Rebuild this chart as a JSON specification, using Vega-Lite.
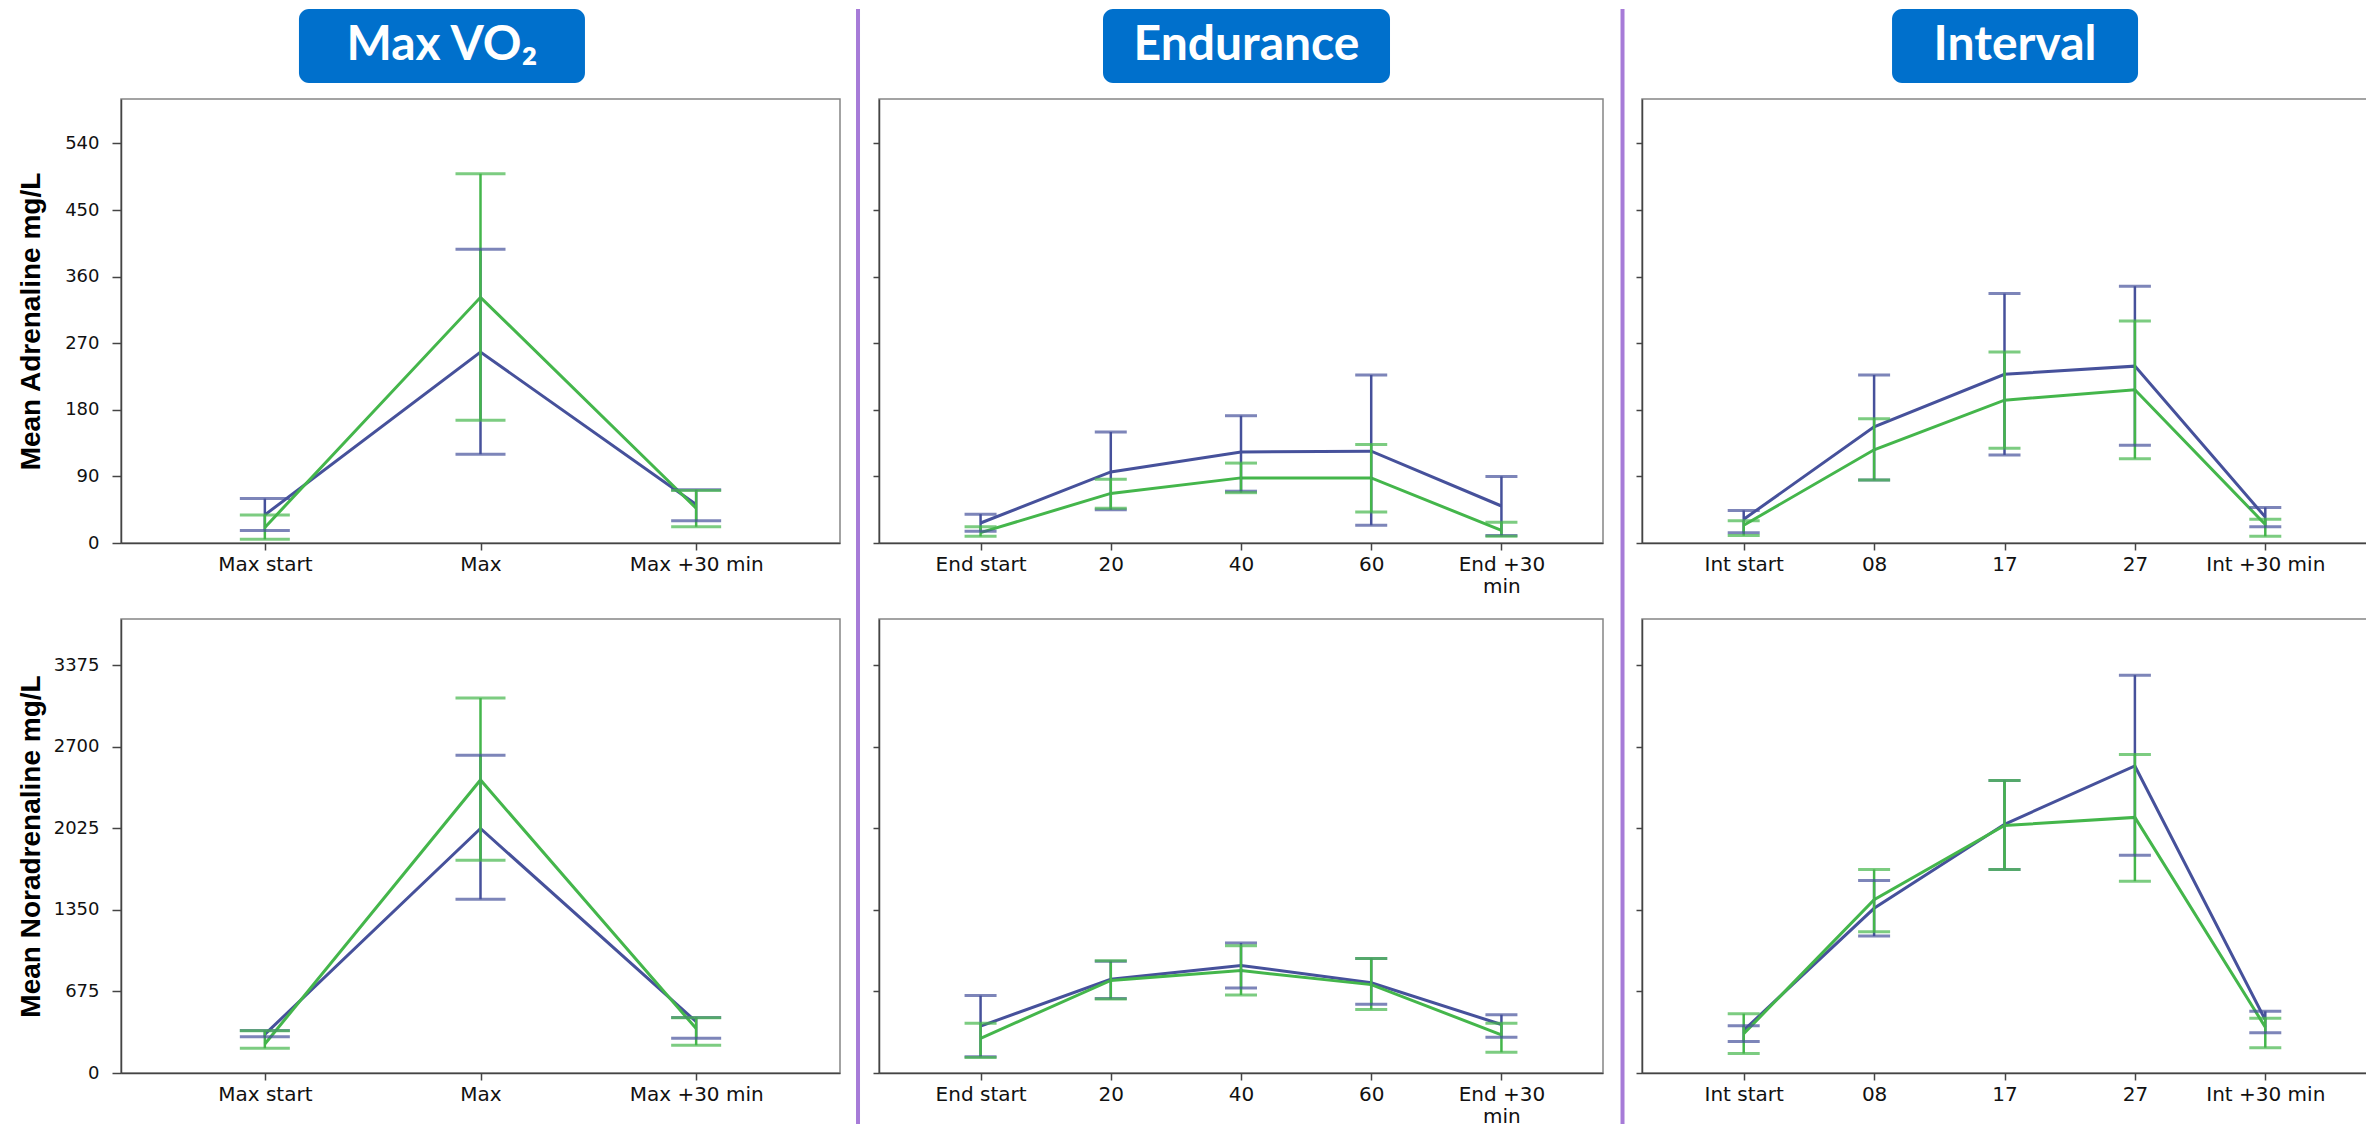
{
  "$schema": "https://vega.github.io/schema/vega-lite/v6.json",
  "background": "white",
  "padding": {"left": 16, "top": 7, "right": 0, "bottom": 0},
  "data": {"values": [
    {"hormone": "Adrenaline", "protocol": "Max", "time": "Max start", "group": "Group A", "mean": 38, "lo": 17, "hi": 60},
    {"hormone": "Adrenaline", "protocol": "Max", "time": "Max", "group": "Group A", "mean": 258, "lo": 120, "hi": 397},
    {"hormone": "Adrenaline", "protocol": "Max", "time": "Max +30 min", "group": "Group A", "mean": 52, "lo": 30, "hi": 72},
    {"hormone": "Adrenaline", "protocol": "Max", "time": "Max start", "group": "Group B", "mean": 21, "lo": 5, "hi": 38},
    {"hormone": "Adrenaline", "protocol": "Max", "time": "Max", "group": "Group B", "mean": 332, "lo": 166, "hi": 499},
    {"hormone": "Adrenaline", "protocol": "Max", "time": "Max +30 min", "group": "Group B", "mean": 47, "lo": 22, "hi": 71},

    {"hormone": "Adrenaline", "protocol": "Endurance", "time": "End start", "group": "Group A", "mean": 27, "lo": 16, "hi": 39},
    {"hormone": "Adrenaline", "protocol": "Endurance", "time": "20", "group": "Group A", "mean": 96, "lo": 45, "hi": 150},
    {"hormone": "Adrenaline", "protocol": "Endurance", "time": "40", "group": "Group A", "mean": 123, "lo": 70, "hi": 172},
    {"hormone": "Adrenaline", "protocol": "Endurance", "time": "60", "group": "Group A", "mean": 124, "lo": 24, "hi": 227},
    {"hormone": "Adrenaline", "protocol": "Endurance", "time": "End +30 min", "group": "Group A", "mean": 50, "lo": 10, "hi": 90},
    {"hormone": "Adrenaline", "protocol": "Endurance", "time": "End start", "group": "Group B", "mean": 14, "lo": 9, "hi": 22},
    {"hormone": "Adrenaline", "protocol": "Endurance", "time": "20", "group": "Group B", "mean": 67, "lo": 47, "hi": 86},
    {"hormone": "Adrenaline", "protocol": "Endurance", "time": "40", "group": "Group B", "mean": 88, "lo": 68, "hi": 108},
    {"hormone": "Adrenaline", "protocol": "Endurance", "time": "60", "group": "Group B", "mean": 88, "lo": 42, "hi": 133},
    {"hormone": "Adrenaline", "protocol": "Endurance", "time": "End +30 min", "group": "Group B", "mean": 17, "lo": 9, "hi": 28},

    {"hormone": "Adrenaline", "protocol": "Interval", "time": "Int start", "group": "Group A", "mean": 32, "lo": 14, "hi": 44},
    {"hormone": "Adrenaline", "protocol": "Interval", "time": "08", "group": "Group A", "mean": 157, "lo": 85, "hi": 227},
    {"hormone": "Adrenaline", "protocol": "Interval", "time": "17", "group": "Group A", "mean": 228, "lo": 119, "hi": 337},
    {"hormone": "Adrenaline", "protocol": "Interval", "time": "27", "group": "Group A", "mean": 239, "lo": 132, "hi": 347},
    {"hormone": "Adrenaline", "protocol": "Interval", "time": "Int +30 min", "group": "Group A", "mean": 35, "lo": 22, "hi": 48},
    {"hormone": "Adrenaline", "protocol": "Interval", "time": "Int start", "group": "Group B", "mean": 24, "lo": 10, "hi": 30},
    {"hormone": "Adrenaline", "protocol": "Interval", "time": "08", "group": "Group B", "mean": 126, "lo": 85, "hi": 168},
    {"hormone": "Adrenaline", "protocol": "Interval", "time": "17", "group": "Group B", "mean": 193, "lo": 128, "hi": 258},
    {"hormone": "Adrenaline", "protocol": "Interval", "time": "27", "group": "Group B", "mean": 207, "lo": 114, "hi": 300},
    {"hormone": "Adrenaline", "protocol": "Interval", "time": "Int +30 min", "group": "Group B", "mean": 25, "lo": 9, "hi": 32},

    {"hormone": "Noradrenaline", "protocol": "Max", "time": "Max start", "group": "Group A", "mean": 320, "lo": 300, "hi": 352},
    {"hormone": "Noradrenaline", "protocol": "Max", "time": "Max", "group": "Group A", "mean": 2025, "lo": 1439, "hi": 2631},
    {"hormone": "Noradrenaline", "protocol": "Max", "time": "Max +30 min", "group": "Group A", "mean": 425, "lo": 287, "hi": 460},
    {"hormone": "Noradrenaline", "protocol": "Max", "time": "Max start", "group": "Group B", "mean": 240, "lo": 205, "hi": 350},
    {"hormone": "Noradrenaline", "protocol": "Max", "time": "Max", "group": "Group B", "mean": 2427, "lo": 1761, "hi": 3105},
    {"hormone": "Noradrenaline", "protocol": "Max", "time": "Max +30 min", "group": "Group B", "mean": 368, "lo": 230, "hi": 458},

    {"hormone": "Noradrenaline", "protocol": "Endurance", "time": "End start", "group": "Group A", "mean": 388, "lo": 135, "hi": 641},
    {"hormone": "Noradrenaline", "protocol": "Endurance", "time": "20", "group": "Group A", "mean": 776, "lo": 618, "hi": 925},
    {"hormone": "Noradrenaline", "protocol": "Endurance", "time": "40", "group": "Group A", "mean": 891, "lo": 704, "hi": 1077},
    {"hormone": "Noradrenaline", "protocol": "Endurance", "time": "60", "group": "Group A", "mean": 747, "lo": 569, "hi": 948},
    {"hormone": "Noradrenaline", "protocol": "Endurance", "time": "End +30 min", "group": "Group A", "mean": 402, "lo": 296, "hi": 483},
    {"hormone": "Noradrenaline", "protocol": "Endurance", "time": "End start", "group": "Group B", "mean": 287, "lo": 129, "hi": 411},
    {"hormone": "Noradrenaline", "protocol": "Endurance", "time": "20", "group": "Group B", "mean": 767, "lo": 612, "hi": 930},
    {"hormone": "Noradrenaline", "protocol": "Endurance", "time": "40", "group": "Group B", "mean": 848, "lo": 646, "hi": 1054},
    {"hormone": "Noradrenaline", "protocol": "Endurance", "time": "60", "group": "Group B", "mean": 732, "lo": 526, "hi": 948},
    {"hormone": "Noradrenaline", "protocol": "Endurance", "time": "End +30 min", "group": "Group B", "mean": 316, "lo": 172, "hi": 411},

    {"hormone": "Noradrenaline", "protocol": "Interval", "time": "Int start", "group": "Group A", "mean": 353, "lo": 261, "hi": 391},
    {"hormone": "Noradrenaline", "protocol": "Interval", "time": "08", "group": "Group A", "mean": 1364, "lo": 1134, "hi": 1594},
    {"hormone": "Noradrenaline", "protocol": "Interval", "time": "17", "group": "Group A", "mean": 2060, "lo": 1686, "hi": 2422},
    {"hormone": "Noradrenaline", "protocol": "Interval", "time": "27", "group": "Group A", "mean": 2543, "lo": 1804, "hi": 3295},
    {"hormone": "Noradrenaline", "protocol": "Interval", "time": "Int +30 min", "group": "Group A", "mean": 440, "lo": 333, "hi": 511},
    {"hormone": "Noradrenaline", "protocol": "Interval", "time": "Int start", "group": "Group B", "mean": 325, "lo": 161, "hi": 491},
    {"hormone": "Noradrenaline", "protocol": "Interval", "time": "08", "group": "Group B", "mean": 1436, "lo": 1169, "hi": 1686},
    {"hormone": "Noradrenaline", "protocol": "Interval", "time": "17", "group": "Group B", "mean": 2050, "lo": 1686, "hi": 2422},
    {"hormone": "Noradrenaline", "protocol": "Interval", "time": "27", "group": "Group B", "mean": 2117, "lo": 1589, "hi": 2637},
    {"hormone": "Noradrenaline", "protocol": "Interval", "time": "Int +30 min", "group": "Group B", "mean": 380, "lo": 210, "hi": 454}
  ]},
  "config": {
    "view": {"stroke": "#858585", "strokeWidth": 1.5},
    "axis": {"grid": false, "domainColor": "#444444", "domainWidth": 1.5, "tickColor": "#444444", "tickWidth": 1.5, "labelFont": "DejaVu Sans", "labelColor": "#111111", "titleFont": "Liberation Sans", "titleColor": "#000000"},
    "line": {"strokeWidth": 3}
  },
  "spacing": 0,
  "hconcat": [
    {
      "spacing": 15,
      "vconcat": [
        {
          "width": 719, "height": 74,
          "data": {"values": [{"title": "Max VO₂"}]},
          "view": {"stroke": null},
          "encoding": {"x": {"field": "title", "type": "nominal", "scale": {"type": "band", "paddingInner": 0, "paddingOuter": 0.757, "align": 0.411}, "axis": null}},
          "layer": [
            {"mark": {"type": "rect", "color": "#0070CC", "cornerRadius": 10}},
            {"mark": {"type": "text", "color": "white", "font": "Lato, DejaVu Sans", "fontWeight": "bold", "fontSize": 48, "baseline": "middle"}, "encoding": {"text": {"field": "title"}}}
          ]
        },
        {
          "bounds": "flush", "spacing": 76,
          "vconcat": [
            {
              "width": 719, "height": 444,
              "transform": [{"filter": "datum.hormone == 'Adrenaline' && datum.protocol == 'Max'"}],
              "encoding": {
                "x": {"field": "time", "type": "ordinal", "scale": {"type": "point", "domain": ["Max start", "Max", "Max +30 min"], "padding": 0.667}, "axis": {"title": null, "labelAngle": 0, "tickSize": 7, "labelFontSize": 20, "labelPadding": 4}},
                "color": {"field": "group", "type": "nominal", "scale": {"domain": ["Group A", "Group B"], "range": ["#46519B", "#44B64B"]}, "legend": null},
                "order": {"value": null}
              },
              "layer": [
                {"mark": {"type": "line", "strokeWidth": 3}, "encoding": {"y": {"field": "mean", "type": "quantitative", "title": "Mean Adrenaline mg/L", "scale": {"domain": [0, 600], "nice": false}, "axis": {"values": [0, 90, 180, 270, 360, 450, 540], "format": "d", "titleFontSize": 28, "titleFontWeight": "bold", "labelFontSize": 18, "tickSize": 9, "labelPadding": 13, "minExtent": 68, "maxExtent": 68, "titlePadding": 8}}}},
                {"mark": {"type": "rule", "strokeWidth": 2.5}, "encoding": {"y": {"field": "lo", "type": "quantitative", "title": "Mean Adrenaline mg/L"}, "y2": {"field": "hi"}}},
                {"mark": {"type": "tick", "size": 50, "thickness": 3}, "encoding": {"y": {"field": "lo", "type": "quantitative", "title": "Mean Adrenaline mg/L"}}},
                {"mark": {"type": "tick", "size": 50, "thickness": 3}, "encoding": {"y": {"field": "hi", "type": "quantitative", "title": "Mean Adrenaline mg/L"}}}
              ]
            },
            {
              "width": 719, "height": 454,
              "transform": [{"filter": "datum.hormone == 'Noradrenaline' && datum.protocol == 'Max'"}],
              "encoding": {
                "x": {"field": "time", "type": "ordinal", "scale": {"type": "point", "domain": ["Max start", "Max", "Max +30 min"], "padding": 0.667}, "axis": {"title": null, "labelAngle": 0, "tickSize": 7, "labelFontSize": 20, "labelPadding": 4}},
                "color": {"field": "group", "type": "nominal", "scale": {"domain": ["Group A", "Group B"], "range": ["#46519B", "#44B64B"]}, "legend": null},
                "order": {"value": null}
              },
              "layer": [
                {"mark": {"type": "line", "strokeWidth": 3}, "encoding": {"y": {"field": "mean", "type": "quantitative", "title": "Mean Noradrenaline mg/L", "scale": {"domain": [0, 3760], "nice": false}, "axis": {"values": [0, 675, 1350, 2025, 2700, 3375], "format": "d", "titleFontSize": 28, "titleFontWeight": "bold", "labelFontSize": 18, "tickSize": 9, "labelPadding": 13, "minExtent": 68, "maxExtent": 68, "titlePadding": 8}}}},
                {"mark": {"type": "rule", "strokeWidth": 2.5}, "encoding": {"y": {"field": "lo", "type": "quantitative", "title": "Mean Noradrenaline mg/L"}, "y2": {"field": "hi"}}},
                {"mark": {"type": "tick", "size": 50, "thickness": 3}, "encoding": {"y": {"field": "lo", "type": "quantitative", "title": "Mean Noradrenaline mg/L"}}},
                {"mark": {"type": "tick", "size": 50, "thickness": 3}, "encoding": {"y": {"field": "hi", "type": "quantitative", "title": "Mean Noradrenaline mg/L"}}}
              ]
            }
          ]
        }
      ]
    },
    {
      "width": 30, "height": 1117,
      "data": {"values": [{"separator": "A"}]},
      "view": {"stroke": null},
      "mark": {"type": "rule", "color": "#A77BD8", "strokeWidth": 4},
      "encoding": {"x": {"datum": 0.567, "type": "quantitative", "scale": {"domain": [0, 1]}, "axis": null}}
    },
    {
      "spacing": 15,
      "vconcat": [
        {
          "width": 724, "height": 74,
          "data": {"values": [{"title": "Endurance"}]},
          "view": {"stroke": null},
          "encoding": {"x": {"field": "title", "type": "nominal", "scale": {"type": "band", "paddingInner": 0, "paddingOuter": 0.7613, "align": 0.5126}, "axis": null}},
          "layer": [
            {"mark": {"type": "rect", "color": "#0070CC", "cornerRadius": 10}},
            {"mark": {"type": "text", "color": "white", "font": "Lato, DejaVu Sans", "fontWeight": "bold", "fontSize": 48, "baseline": "middle"}, "encoding": {"text": {"field": "title"}}}
          ]
        },
        {
          "bounds": "flush", "spacing": 76,
          "vconcat": [
            {
              "width": 724, "height": 444,
              "transform": [{"filter": "datum.hormone == 'Adrenaline' && datum.protocol == 'Endurance'"}],
              "encoding": {
                "x": {"field": "time", "type": "ordinal", "scale": {"type": "point", "domain": ["End start", "20", "40", "60", "End +30 min"], "padding": 0.78}, "axis": {"title": null, "labelAngle": 0, "tickSize": 7, "labelFontSize": 20, "labelPadding": 4, "labelLineHeight": 22, "labelExpr": "datum.label == 'End +30 min' ? ['End +30', 'min'] : datum.label"}},
                "color": {"field": "group", "type": "nominal", "scale": {"domain": ["Group A", "Group B"], "range": ["#46519B", "#44B64B"]}, "legend": null},
                "order": {"value": null}
              },
              "layer": [
                {"mark": {"type": "line", "strokeWidth": 3}, "encoding": {"y": {"field": "mean", "type": "quantitative", "title": null, "scale": {"domain": [0, 600], "nice": false}, "axis": {"values": [0, 90, 180, 270, 360, 450, 540], "labels": false, "tickSize": 6}}}},
                {"mark": {"type": "rule", "strokeWidth": 2.5}, "encoding": {"y": {"field": "lo", "type": "quantitative", "title": null}, "y2": {"field": "hi"}}},
                {"mark": {"type": "tick", "size": 32, "thickness": 3}, "encoding": {"y": {"field": "lo", "type": "quantitative", "title": null}}},
                {"mark": {"type": "tick", "size": 32, "thickness": 3}, "encoding": {"y": {"field": "hi", "type": "quantitative", "title": null}}}
              ]
            },
            {
              "width": 724, "height": 454,
              "transform": [{"filter": "datum.hormone == 'Noradrenaline' && datum.protocol == 'Endurance'"}],
              "encoding": {
                "x": {"field": "time", "type": "ordinal", "scale": {"type": "point", "domain": ["End start", "20", "40", "60", "End +30 min"], "padding": 0.78}, "axis": {"title": null, "labelAngle": 0, "tickSize": 7, "labelFontSize": 20, "labelPadding": 4, "labelLineHeight": 22, "labelExpr": "datum.label == 'End +30 min' ? ['End +30', 'min'] : datum.label"}},
                "color": {"field": "group", "type": "nominal", "scale": {"domain": ["Group A", "Group B"], "range": ["#46519B", "#44B64B"]}, "legend": null},
                "order": {"value": null}
              },
              "layer": [
                {"mark": {"type": "line", "strokeWidth": 3}, "encoding": {"y": {"field": "mean", "type": "quantitative", "title": null, "scale": {"domain": [0, 3760], "nice": false}, "axis": {"values": [0, 675, 1350, 2025, 2700, 3375], "labels": false, "tickSize": 6}}}},
                {"mark": {"type": "rule", "strokeWidth": 2.5}, "encoding": {"y": {"field": "lo", "type": "quantitative", "title": null}, "y2": {"field": "hi"}}},
                {"mark": {"type": "tick", "size": 32, "thickness": 3}, "encoding": {"y": {"field": "lo", "type": "quantitative", "title": null}}},
                {"mark": {"type": "tick", "size": 32, "thickness": 3}, "encoding": {"y": {"field": "hi", "type": "quantitative", "title": null}}}
              ]
            }
          ]
        }
      ]
    },
    {
      "width": 30, "height": 1117,
      "data": {"values": [{"separator": "B"}]},
      "view": {"stroke": null},
      "mark": {"type": "rule", "color": "#A77BD8", "strokeWidth": 4},
      "encoding": {"x": {"datum": 0.617, "type": "quantitative", "scale": {"domain": [0, 1]}, "axis": null}}
    },
    {
      "spacing": 15,
      "vconcat": [
        {
          "width": 725, "height": 74,
          "data": {"values": [{"title": "Interval"}]},
          "view": {"stroke": null},
          "encoding": {"x": {"field": "title", "type": "nominal", "scale": {"type": "band", "paddingInner": 0, "paddingOuter": 0.9736, "align": 0.522}, "axis": null}},
          "layer": [
            {"mark": {"type": "rect", "color": "#0070CC", "cornerRadius": 10}},
            {"mark": {"type": "text", "color": "white", "font": "Lato, DejaVu Sans", "fontWeight": "bold", "fontSize": 48, "baseline": "middle"}, "encoding": {"text": {"field": "title"}}}
          ]
        },
        {
          "bounds": "flush", "spacing": 76,
          "vconcat": [
            {
              "width": 725, "height": 444,
              "transform": [{"filter": "datum.hormone == 'Adrenaline' && datum.protocol == 'Interval'"}],
              "encoding": {
                "x": {"field": "time", "type": "ordinal", "scale": {"type": "point", "domain": ["Int start", "08", "17", "27", "Int +30 min"], "padding": 0.78}, "axis": {"title": null, "labelAngle": 0, "tickSize": 7, "labelFontSize": 20, "labelPadding": 4}},
                "color": {"field": "group", "type": "nominal", "scale": {"domain": ["Group A", "Group B"], "range": ["#46519B", "#44B64B"]}, "legend": null},
                "order": {"value": null}
              },
              "layer": [
                {"mark": {"type": "line", "strokeWidth": 3}, "encoding": {"y": {"field": "mean", "type": "quantitative", "title": null, "scale": {"domain": [0, 600], "nice": false}, "axis": {"values": [0, 90, 180, 270, 360, 450, 540], "labels": false, "tickSize": 6}}}},
                {"mark": {"type": "rule", "strokeWidth": 2.5}, "encoding": {"y": {"field": "lo", "type": "quantitative", "title": null}, "y2": {"field": "hi"}}},
                {"mark": {"type": "tick", "size": 32, "thickness": 3}, "encoding": {"y": {"field": "lo", "type": "quantitative", "title": null}}},
                {"mark": {"type": "tick", "size": 32, "thickness": 3}, "encoding": {"y": {"field": "hi", "type": "quantitative", "title": null}}}
              ]
            },
            {
              "width": 725, "height": 454,
              "transform": [{"filter": "datum.hormone == 'Noradrenaline' && datum.protocol == 'Interval'"}],
              "encoding": {
                "x": {"field": "time", "type": "ordinal", "scale": {"type": "point", "domain": ["Int start", "08", "17", "27", "Int +30 min"], "padding": 0.78}, "axis": {"title": null, "labelAngle": 0, "tickSize": 7, "labelFontSize": 20, "labelPadding": 4}},
                "color": {"field": "group", "type": "nominal", "scale": {"domain": ["Group A", "Group B"], "range": ["#46519B", "#44B64B"]}, "legend": null},
                "order": {"value": null}
              },
              "layer": [
                {"mark": {"type": "line", "strokeWidth": 3}, "encoding": {"y": {"field": "mean", "type": "quantitative", "title": null, "scale": {"domain": [0, 3760], "nice": false}, "axis": {"values": [0, 675, 1350, 2025, 2700, 3375], "labels": false, "tickSize": 6}}}},
                {"mark": {"type": "rule", "strokeWidth": 2.5}, "encoding": {"y": {"field": "lo", "type": "quantitative", "title": null}, "y2": {"field": "hi"}}},
                {"mark": {"type": "tick", "size": 32, "thickness": 3}, "encoding": {"y": {"field": "lo", "type": "quantitative", "title": null}}},
                {"mark": {"type": "tick", "size": 32, "thickness": 3}, "encoding": {"y": {"field": "hi", "type": "quantitative", "title": null}}}
              ]
            }
          ]
        }
      ]
    }
  ]
}
